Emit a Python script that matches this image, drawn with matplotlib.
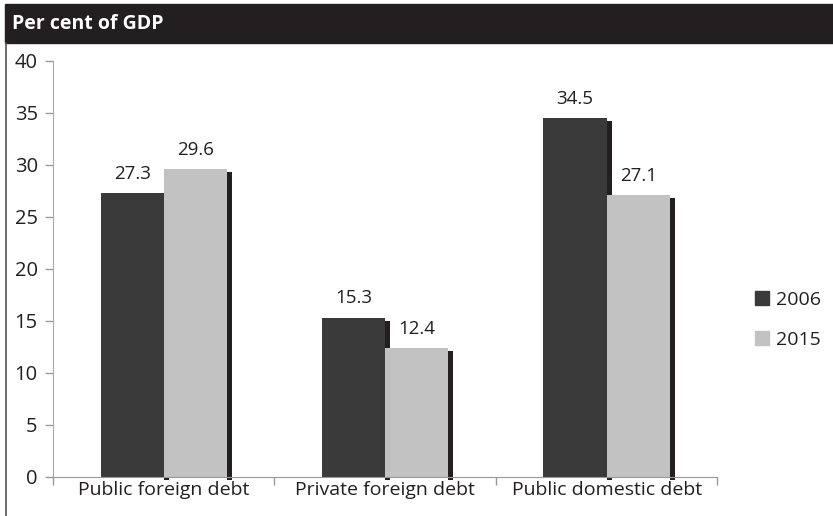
import numpy as np
import matplotlib.pyplot as plt
from matplotlib.patches import Rectangle
from matplotlib.lines import Line2D

plt.rcParams['font.family'] = ['Open Sans', 'DejaVu Sans']

categories = ['Public foreign debt', 'Private foreign debt', 'Public domestic debt']
years = ['2006', '2015']
debt_2006 = [27.3, 15.3, 34.5]
debt_2015 = [29.6, 12.4, 27.1]

dark = '#3a3a3a'
light = '#c2c2c2'
shade = '#231f20'
ink = '#231f20'

fig = plt.figure(figsize=(8.33, 5.16), dpi=100)
ax = fig.add_axes([0.0636, 0.0756, 0.7975, 0.8064])

x = np.arange(len(categories))
w = 0.285
sw = 0.023      # shadow width
sdrop = 0.3     # shadow drops a little below each bar

for vals, off, col in [(debt_2006, -w / 2, dark), (debt_2015, w / 2, light)]:
    # shadow strip on the right side of each bar
    ax.bar(x + off + w / 2 + sw / 2, vals, width=sw, bottom=-sdrop,
           color=shade, zorder=1, linewidth=0, clip_on=False)

for vals, off, col in [(debt_2006, -w / 2, dark), (debt_2015, w / 2, light)]:
    bars = ax.bar(x + off, vals, width=w, color=col, zorder=2, linewidth=0)
    for b, v in zip(bars, vals):
        ax.text(b.get_x() + b.get_width() / 2, v + 1.0, f'{v:.1f}',
                ha='center', va='bottom', fontsize=13.5, color=ink)

ax.set_xlim(-0.5, 2.5)
ax.set_ylim(0, 40)
ax.set_yticks(range(0, 41, 5))
ax.set_xticks([-0.5, 0.5, 1.5, 2.5])
ax.set_xticklabels([])
ax.set_xticks(x, minor=True)
ax.set_xticklabels(categories, minor=True, fontsize=14, color=ink)
ax.tick_params(axis='x', which='minor', length=0, pad=3)
ax.tick_params(axis='x', which='major', direction='out', length=6,
               color='#999999', width=1)
ax.tick_params(axis='y', direction='out', length=6, color='#999999',
               width=1, labelsize=14.5, labelcolor=ink, pad=5)

for s in ['top', 'right']:
    ax.spines[s].set_visible(False)
ax.spines['left'].set_color('#aaaaaa')
ax.spines['bottom'].set_color('#999999')

# legend with square swatches
handles = [Line2D([], [], marker='s', linestyle='', markersize=10,
                  markerfacecolor=c, markeredgecolor=c) for c in (dark, light)]
fig.legend(handles, years, loc='center left', bbox_to_anchor=(0.885, 0.38),
           frameon=False, fontsize=14, handlelength=0.8, handletextpad=0.3,
           labelspacing=1.1, labelcolor=ink)

# title band across the top
fig.patches.append(Rectangle((5 / 833, 1 - 43 / 516), 1, 39 / 516,
                             transform=fig.transFigure, color=shade, zorder=0))
fig.text(12 / 833, 1 - 24 / 516, 'Per cent of GDP', color='white',
         fontsize=14, fontweight='bold', va='center', ha='left')
fig.add_artist(Line2D([5.5 / 833, 5.5 / 833], [0, 1 - 43 / 516],
                      transform=fig.transFigure, color='#555555', lw=1.2))

fig.savefig('out.png', dpi=100)
